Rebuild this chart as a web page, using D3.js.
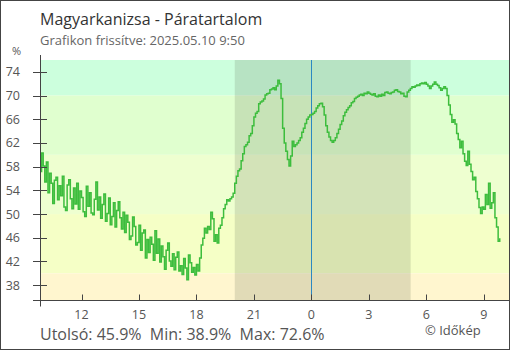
<!DOCTYPE html>
<html lang="hu">
<head>
  <meta charset="UTF-8">
  <title>Magyarkanizsa - Páratartalom</title>
  <script src="https://cdn.jsdelivr.net/npm/d3@7"></script>
  <style>
    body {
      margin: 0;
      font-family: "Open Sans", sans-serif;
      background: #fff;
    }
    svg {
      display: block;
    }
  </style>
</head>
<body>
  <svg width="510" height="350"></svg>
  <script>
    // humidity (%), one reading every 5 minutes from 2025.05.09 9:50 to 2025.05.10 9:50
    const humidity = [
      57.2, 60.3, 58.1, 55.4, 58.8, 53.6, 56.9, 55.2, 51.8, 55.7, 56.2, 52.4,
      54.8, 53.1, 56.4, 51.2, 50.6, 54.9, 55.8, 52.6, 50.9, 54.4, 51.7, 55.2,
      50.8, 53.9, 52.8, 50.4, 49.6, 54.7, 51.3, 53.6, 50.2, 49.9, 52.5, 55.4,
      50.7, 52.9, 49.3, 51.6, 53.4, 48.8, 50.1, 52.7, 48.2, 49.6, 51.9, 47.8,
      50.6, 52.1, 49.4, 47.5, 50.3, 46.9, 49.8, 48.6, 45.7, 46.3, 49.5, 47.9,
      44.8, 45.2, 48.1, 43.9, 46.8, 47.3, 42.6, 45.7, 43.5, 46.1, 44.9, 42.2,
      47.2, 43.4, 45.8, 41.9, 44.6, 42.8, 40.7, 43.9, 45.1, 42.1, 41.2, 43.3,
      40.6, 42.7, 43.6, 40.4, 41.3, 39.8, 42.5, 40.9, 38.9, 43.1, 41.8, 40.2,
      41.0, 39.7, 41.5, 40.4, 42.6, 44.8, 45.9, 47.6, 46.8, 47.9, 47.4, 50.3,
      49.2, 45.4, 46.5, 45.1, 47.6, 48.1, 49.4, 50.9, 51.6, 52.4, 52.2, 52.6,
      52.9, 53.5, 55.2, 56.4, 57.3, 57.6, 59.0, 60.2, 61.4, 61.7, 62.1, 63.2,
      63.6, 64.9, 66.4, 67.0, 67.3, 68.6, 68.9, 69.1, 69.4, 70.1, 70.3, 70.4,
      71.0, 71.1, 71.3, 71.0, 71.6, 72.6, 72.0, 69.5, 64.5, 62.0, 60.6, 59.2,
      58.1, 59.8, 62.3, 61.4, 61.7, 62.0, 62.4, 62.9, 63.8, 64.5, 65.3, 66.0,
      66.4, 66.7, 66.8, 67.0, 67.3, 67.9, 68.3, 68.6, 68.7, 68.1, 66.7, 64.9,
      63.8, 63.0, 62.4, 62.1, 62.4, 62.9, 63.6, 64.3, 65.1, 65.7, 66.6, 67.2,
      67.6, 68.0, 68.3, 68.8, 69.0, 69.5, 69.7, 69.9, 70.1, 70.2, 70.0, 70.4,
      70.3, 70.6, 70.4, 70.2, 70.1, 70.3, 69.9, 69.8, 70.1, 69.9, 70.2, 70.0,
      70.5, 70.6, 70.4, 70.3, 70.5, 70.6, 70.9, 71.0, 70.7, 70.6, 70.3, 70.4,
      69.9, 69.8, 70.6, 70.9, 71.2, 71.5, 71.4, 71.6, 71.8, 71.7, 72.0, 72.1,
      72.0, 72.2, 71.9, 71.6, 71.2, 71.6, 71.9, 72.3, 71.9, 71.7, 71.3, 70.9,
      71.2, 71.5, 71.2, 70.0, 68.4, 66.8, 65.5, 65.9, 65.2, 63.6, 62.6, 61.2,
      62.3, 60.2, 58.9, 58.2, 60.6, 58.4, 57.2, 55.8, 56.2, 53.8, 52.6, 51.1,
      50.1, 51.2, 50.8, 53.3, 51.6, 55.2, 51.0, 51.9, 53.6, 49.4, 47.8, 45.4,
      45.9
    ];
    const startTime = new Date(2025, 4, 9, 9, 50);
    const stepMinutes = 5;

    // y bands (humidity ranges) and their colours
    const bands = [
      { from: 70, to: 80, color: '#ccffdd' },
      { from: 60, to: 70, color: '#e0ffcf' },
      { from: 50, to: 60, color: '#eeffd0' },
      { from: 40, to: 50, color: '#f5ffc6' },
      { from: 30, to: 40, color: '#fff6cf' }
    ];
    const yTicks = [38, 42, 46, 50, 54, 58, 62, 66, 70, 74];
    const nightStart = new Date(2025, 4, 9, 20, 0);
    const nightEnd = new Date(2025, 4, 10, 5, 11);
    const midnight = new Date(2025, 4, 10, 0, 0);
    const stats = { last: 45.9, min: 38.9, max: 72.6 };

    const width = 510;
    const height = 350;
    const margin = { top: 60, right: 1, bottom: 50, left: 40 };

    const data = humidity.map((v, i) => ({
      t: new Date(startTime.getTime() + i * stepMinutes * 60000),
      v: v
    }));

    const x = d3.scaleTime()
      .domain([startTime, new Date(2025, 4, 10, 10, 19)])
      .range([margin.left, width - margin.right]);

    const y = d3.scaleLinear()
      .domain([35.5, 76])
      .range([height - margin.bottom, margin.top]);

    const svg = d3.select('svg');
    const plotW = width - margin.right - margin.left;

    svg.append('defs').append('clipPath').attr('id', 'plot')
      .append('rect')
      .attr('x', margin.left).attr('y', margin.top)
      .attr('width', plotW).attr('height', height - margin.bottom - margin.top);

    const plot = svg.append('g').attr('clip-path', 'url(#plot)');

    plot.selectAll('rect.band')
      .data(bands)
      .join('rect')
      .attr('class', 'band')
      .attr('x', margin.left)
      .attr('width', plotW)
      .attr('y', d => y(d.to))
      .attr('height', d => y(d.from) - y(d.to))
      .attr('fill', d => d.color);

    plot.append('rect')
      .attr('x', x(nightStart))
      .attr('width', x(nightEnd) - x(nightStart))
      .attr('y', margin.top)
      .attr('height', height - margin.bottom - margin.top)
      .attr('fill', 'rgba(90,100,80,0.18)');

    plot.append('line')
      .attr('x1', Math.round(x(midnight)) + 0.5)
      .attr('x2', Math.round(x(midnight)) + 0.5)
      .attr('y1', margin.top)
      .attr('y2', height - margin.bottom)
      .attr('stroke', '#2b88c2')
      .attr('stroke-width', 1);

    const line = d3.line()
      .x(d => x(d.t))
      .y(d => y(d.v))
      .curve(d3.curveStepAfter);

    plot.append('path')
      .datum(data)
      .attr('fill', 'none')
      .attr('stroke', '#3dbd3d')
      .attr('stroke-width', 1.5)
      .attr('d', line);

    // axes
    const axisColor = '#444';
    const x0 = margin.left + 0.5;
    const yb = height - margin.bottom + 0.5;

    svg.append('line')
      .attr('x1', x0).attr('x2', x0)
      .attr('y1', margin.top - 5).attr('y2', yb + 6)
      .attr('stroke', axisColor);
    svg.append('line')
      .attr('x1', margin.left - 7).attr('x2', width)
      .attr('y1', yb).attr('y2', yb)
      .attr('stroke', axisColor);

    const yt = svg.append('g');
    yt.selectAll('line')
      .data(yTicks)
      .join('line')
      .attr('x1', margin.left - 7).attr('x2', margin.left + 7)
      .attr('y1', d => Math.round(y(d)) + 0.5)
      .attr('y2', d => Math.round(y(d)) + 0.5)
      .attr('stroke', axisColor);
    yt.selectAll('text')
      .data(yTicks)
      .join('text')
      .attr('x', 20)
      .attr('y', d => y(d) + 4.5)
      .attr('text-anchor', 'end')
      .attr('font-size', 12.5)
      .attr('fill', '#555')
      .text(d => d);

    const xTicks = x.ticks(d3.timeHour.every(3))
      .filter(d => d.getHours() % 3 === 0);
    const xt = svg.append('g');
    xt.selectAll('line')
      .data(xTicks)
      .join('line')
      .attr('x1', d => Math.round(x(d)) + 0.5)
      .attr('x2', d => Math.round(x(d)) + 0.5)
      .attr('y1', yb - 6).attr('y2', yb)
      .attr('stroke', axisColor);
    xt.selectAll('text')
      .data(xTicks)
      .join('text')
      .attr('x', d => x(d))
      .attr('y', 319)
      .attr('text-anchor', 'middle')
      .attr('font-size', 12.5)
      .attr('fill', '#555')
      .text(d => d.getHours());

    svg.append('text')
      .attr('x', 16.5).attr('y', 55)
      .attr('text-anchor', 'middle')
      .attr('font-size', 11)
      .attr('fill', '#555')
      .text('%');

    // titles
    svg.append('text')
      .attr('x', 40).attr('y', 25)
      .attr('font-size', 16)
      .attr('fill', '#333')
      .text('Magyarkanizsa - Páratartalom');
    svg.append('text')
      .attr('x', 40).attr('y', 45)
      .attr('font-size', 13)
      .attr('fill', '#666')
      .text('Grafikon frissítve: 2025.05.10 9:50');

    svg.append('text')
      .attr('x', 40).attr('y', 339.5)
      .attr('font-size', 16)
      .attr('fill', '#555')
      .attr('xml:space', 'preserve')
      .text(`Utolsó: ${stats.last}%  Min: ${stats.min}%  Max: ${stats.max}%`);
    svg.append('text')
      .attr('x', 425).attr('y', 335)
      .attr('font-size', 13)
      .attr('fill', '#555')
      .text('© Időkép');

    // frame
    svg.append('rect')
      .attr('x', 0.5).attr('y', 0.5)
      .attr('width', width - 1).attr('height', height - 1)
      .attr('fill', 'none')
      .attr('stroke', '#444');
  </script>
</body>
</html>
